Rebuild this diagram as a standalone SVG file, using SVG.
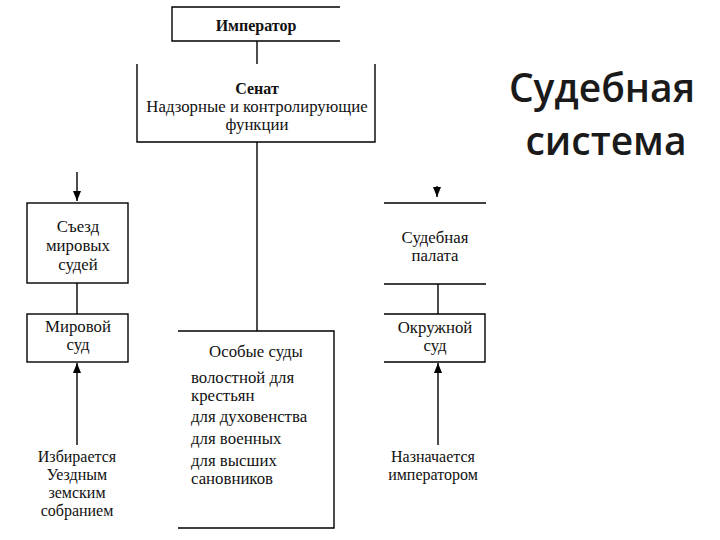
<svg xmlns="http://www.w3.org/2000/svg" width="720" height="540" viewBox="0 0 720 540">
<defs>
<style>
.ln{stroke:#000;stroke-width:1.4;fill:none}
.t{font-family:"Liberation Serif","Times New Roman",serif;font-size:16.8px;fill:#111}
.s{font-size:16px}
.c{text-anchor:middle}
.b{font-weight:bold;font-size:16px}
.title{font-family:"Open Sans","DejaVu Sans",sans-serif;font-size:39px;font-weight:600;fill:#1a1a1a;text-anchor:middle}
</style>
<marker id="ah" viewBox="0 0 10 10" refX="10" refY="5" markerWidth="10" markerHeight="10" markerUnits="userSpaceOnUse" orient="auto">
<path d="M0,1 L10,5 L0,9 Z" fill="#000"/>
</marker>
</defs>
<rect width="720" height="540" fill="#fff"/>
<g id="connectors">
<line class="ln" x1="257" y1="41" x2="257" y2="64"/>
<line class="ln" x1="257" y1="142" x2="257" y2="331"/>
<line class="ln" x1="77" y1="172" x2="77" y2="201" marker-end="url(#ah)"/>
<line class="ln" x1="77" y1="283" x2="77" y2="314"/>
<line class="ln" x1="77" y1="445" x2="77" y2="363" marker-end="url(#ah)"/>
<line class="ln" x1="437" y1="186" x2="437" y2="197" marker-end="url(#ah)"/>
<line class="ln" x1="438" y1="284" x2="438" y2="314"/>
<line class="ln" x1="438" y1="445" x2="438" y2="363" marker-end="url(#ah)"/>
</g>
<g id="imperator">
<path class="ln" d="M340,7 H172 V41 H340"/>
<text class="t c b" x="256" y="31">Император</text>
</g>
<g id="senat">
<path class="ln" d="M137,64 V142 H375 V64"/>
<text class="t c b" x="257" y="94">Сенат</text>
<text class="t c" x="257" y="112">Надзорные и контролирующие</text>
<text class="t c" x="257" y="130">функции</text>
</g>
<g id="title">
<text class="title" x="602" y="102">Судебная</text>
<text class="title" x="606" y="155">система</text>
</g>
<g id="sezd">
<rect class="ln" x="27" y="203" width="101" height="80"/>
<text class="t c" x="78" y="232">Съезд</text>
<text class="t c" x="78" y="251">мировых</text>
<text class="t c" x="78" y="270">судей</text>
</g>
<g id="mirovoy">
<rect class="ln" x="27" y="314" width="101" height="48"/>
<text class="t c" x="78" y="332">Мировой</text>
<text class="t c" x="78" y="350">суд</text>
</g>
<g id="izbiraetsya">
<text class="t s c" x="77" y="462">Избирается</text>
<text class="t s c" x="77" y="480">Уездным</text>
<text class="t s c" x="77" y="498">земским</text>
<text class="t s c" x="77" y="516">собранием</text>
</g>
<g id="palata">
<line class="ln" x1="384" y1="203" x2="486" y2="203"/>
<line class="ln" x1="384" y1="284" x2="486" y2="284"/>
<text class="t c" x="435" y="243">Судебная</text>
<text class="t c" x="435" y="261">палата</text>
</g>
<g id="okruzhnoy">
<path class="ln" d="M384,314 H485 V362 H384"/>
<text class="t c" x="435" y="333">Окружной</text>
<text class="t c" x="435" y="351">суд</text>
</g>
<g id="naznachaetsya">
<text class="t s c" x="433" y="462">Назначается</text>
<text class="t s c" x="433" y="480">императором</text>
</g>
<g id="osobye">
<path class="ln" d="M178,331 H334 V528 H178"/>
<text class="t c" x="256" y="357">Особые суды</text>
<text class="t" x="191" y="383">волостной для</text>
<text class="t" x="191" y="401">крестьян</text>
<text class="t" x="191" y="422">для духовенства</text>
<text class="t" x="191" y="444">для военных</text>
<text class="t" x="191" y="466">для высших</text>
<text class="t" x="191" y="484">сановников</text>
</g>
</svg>
